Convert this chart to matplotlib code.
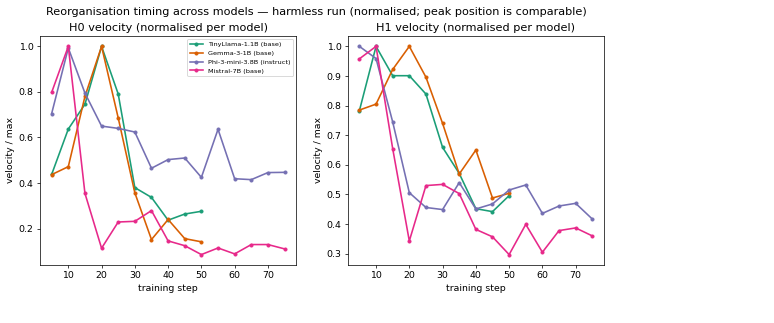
import matplotlib
matplotlib.use("Agg")
from matplotlib import pyplot as plt

# training steps
steps_short = [5, 10, 15, 20, 25, 30, 35, 40, 45, 50]
steps_long = [5, 10, 15, 20, 25, 30, 35, 40, 45, 50, 55, 60, 65, 70, 75]

models = ["TinyLlama-1.1B (base)", "Gemma-3-1B (base)",
          "Phi-3-mini-3.8B (instruct)", "Mistral-7B (base)"]
colors = ["#1b9e77", "#d95f02", "#7570b3", "#e7298a"]

# H0 velocity, normalised per model
h0_tinyllama = [0.438, 0.637, 0.746, 1.0, 0.791, 0.380, 0.337, 0.237, 0.264, 0.276]
h0_gemma = [0.437, 0.472, 0.78, 1.0, 0.686, 0.357, 0.152, 0.240, 0.156, 0.142]
h0_phi = [0.705, 0.993, 0.795, 0.650, 0.640, 0.624, 0.465, 0.503, 0.510, 0.425,
          0.636, 0.419, 0.415, 0.446, 0.447]
h0_mistral = [0.798, 1.0, 0.355, 0.114, 0.229, 0.232, 0.279, 0.146, 0.125, 0.086,
              0.115, 0.089, 0.130, 0.130, 0.111]

# H1 velocity, normalised per model
h1_tinyllama = [0.783, 1.0, 0.901, 0.901, 0.839, 0.659, 0.571, 0.452, 0.442, 0.496]
h1_gemma = [0.785, 0.805, 0.922, 1.0, 0.896, 0.740, 0.569, 0.650, 0.488, 0.504]
h1_phi = [1.0, 0.959, 0.745, 0.506, 0.456, 0.449, 0.540, 0.451, 0.468, 0.515,
          0.532, 0.436, 0.461, 0.470, 0.417]
h1_mistral = [0.958, 1.0, 0.655, 0.343, 0.530, 0.534, 0.503, 0.382, 0.357, 0.297,
              0.399, 0.305, 0.378, 0.387, 0.360]

h0 = [h0_tinyllama, h0_gemma, h0_phi, h0_mistral]
h1 = [h1_tinyllama, h1_gemma, h1_phi, h1_mistral]
xs = [steps_short, steps_short, steps_long, steps_long]

plt.rcParams["font.size"] = 10.5

fig = plt.figure(figsize=(12, 5.008), dpi=64.5)
ax0 = fig.add_axes([0.0517, 0.1796, 0.331, 0.709])
ax1 = fig.add_axes([0.4493, 0.1796, 0.331, 0.709])

for ax, series, title in [(ax0, h0, "H0 velocity (normalised per model)"),
                          (ax1, h1, "H1 velocity (normalised per model)")]:
    for x, y, name, c in zip(xs, series, models, colors):
        ax.plot(x, y, marker="o", markersize=3.5, linewidth=1.8, color=c, label=name)
    ax.set_title(title)
    ax.set_xlabel("training step")
    ax.set_ylabel("velocity / max")
    ax.set_xticks([10, 20, 30, 40, 50, 60, 70])

ax0.legend(loc="upper right", fontsize=7.2)

fig.suptitle("Reorganisation timing across models \u2014 harmless run "
             "(normalised; peak position is comparable)",
             x=0.409, y=0.963, va="center")

fig.savefig("out.png", dpi=64.5)
